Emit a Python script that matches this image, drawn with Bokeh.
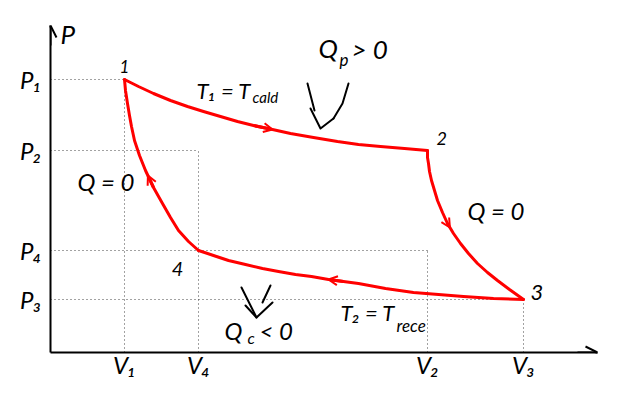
from bokeh.plotting import figure
from bokeh.models import Range1d, LinearAxis, FixedTicker, Label, Arrow, OpenHead
from bokeh.embed import file_html
from bokeh.resources import INLINE

# ---- data (arbitrary units) ----
V_names = ["V₁", "V₄", "V₂", "V₃"]
V_vals = [0.74, 1.48, 3.77, 4.73]
P_names = ["P₁", "P₂", "P₄", "P₃"]
P_vals = [2.73, 2.02, 1.02, 0.53]

# 1 -> 2 hot isotherm
iso_hot_V = [0.74, 0.88, 1.03, 1.20, 1.37, 1.53, 1.70, 1.87, 2.03, 2.22, 2.40, 2.63, 2.87, 3.08, 3.30, 3.54, 3.77]
iso_hot_P = [2.73, 2.66, 2.59, 2.52, 2.46, 2.41, 2.36, 2.31, 2.27, 2.23, 2.19, 2.15, 2.11, 2.08, 2.06, 2.04, 2.02]
# 2 -> 3 adiabatic expansion
adi_exp_V = [3.77, 3.77, 3.78, 3.79, 3.81, 3.84, 3.87, 3.92, 3.97, 4.03, 4.10, 4.18, 4.27, 4.37, 4.47, 4.59, 4.73]
adi_exp_P = [2.02, 1.95, 1.89, 1.81, 1.72, 1.62, 1.52, 1.40, 1.29, 1.19, 1.09, 0.99, 0.89, 0.80, 0.72, 0.63, 0.53]
# 3 -> 4 cold isotherm
iso_cold_V = [4.73, 4.43, 4.13, 3.88, 3.63, 3.35, 3.08, 2.93, 2.78, 2.61, 2.45, 2.28, 2.12, 1.95, 1.78, 1.63, 1.48]
iso_cold_P = [0.53, 0.54, 0.56, 0.58, 0.60, 0.64, 0.69, 0.71, 0.73, 0.76, 0.78, 0.81, 0.84, 0.88, 0.92, 0.97, 1.02]
# 4 -> 1 adiabatic compression
adi_comp_V = [1.48, 1.38, 1.28, 1.20, 1.12, 1.03, 0.95, 0.89, 0.84, 0.81, 0.79, 0.77, 0.75, 0.74]
adi_comp_P = [1.02, 1.11, 1.22, 1.35, 1.49, 1.65, 1.82, 1.97, 2.12, 2.26, 2.37, 2.49, 2.62, 2.73]

XMAX, YMAX = 5.47, 3.27
RED = "#ff0000"
FONT = "Lato"

p = figure(width=632, height=392, x_range=Range1d(0, XMAX), y_range=Range1d(0, YMAX),
           output_backend="svg", toolbar_location=None,
           x_axis_type=None, y_axis_type=None,
           min_border_left=50, min_border_right=35, min_border_top=25, min_border_bottom=40)
p.outline_line_color = None
p.background_fill_color = "white"

# axes
xa = LinearAxis(ticker=FixedTicker(ticks=V_vals),
                major_label_overrides={v: n for v, n in zip(V_vals, V_names)})
ya = LinearAxis(ticker=FixedTicker(ticks=P_vals),
                major_label_overrides={v: n for v, n in zip(P_vals, P_names)})
for ax in (xa, ya):
    ax.axis_line_width = 2
    ax.axis_line_color = "black"
    ax.major_tick_in = 0
    ax.major_tick_out = 0
    ax.minor_tick_in = 0
    ax.minor_tick_out = 0
    ax.major_label_text_font = FONT
    ax.major_label_text_font_style = "italic"
    ax.major_label_text_font_size = "24px"
    ax.major_label_text_color = "black"
xa.major_label_standoff = -3
ya.major_label_standoff = 9
ya.major_label_text_baseline = "top"
p.add_layout(xa, "below")
p.add_layout(ya, "left")

# axis arrowheads
p.add_layout(Arrow(end=OpenHead(size=12, line_width=2), x_start=XMAX - 0.2, y_start=0,
                   x_end=XMAX, y_end=0, line_width=2))
p.add_layout(Arrow(end=OpenHead(size=12, line_width=2), x_start=0, y_start=YMAX - 0.2,
                   x_end=0, y_end=YMAX, line_width=2))

# dotted guides
guide_x0 = [0, 0, 0, 0] + V_vals
guide_y0 = P_vals + [0, 0, 0, 0]
guide_x1 = V_vals + V_vals
guide_y1 = P_vals + P_vals
p.segment(x0=guide_x0, y0=guide_y0, x1=guide_x1, y1=guide_y1,
          line_color="#444444", line_width=1, line_dash="1 3")

# cycle
curves = [(iso_hot_V, iso_hot_P), (adi_exp_V, adi_exp_P),
          (iso_cold_V, iso_cold_P), (adi_comp_V, adi_comp_P)]
for xs, ys in curves:
    p.line(xs, ys, line_color=RED, line_width=3, line_join="round", line_cap="round")

# direction arrowheads along the curves (curve, segment index, fraction)
arrow_spots = [(0, 8, 1.0), (1, 8, 0.4), (2, 7, 1.0), (3, 5, 0.7)]
for ci, i, t in arrow_spots:
    xs, ys = curves[ci]
    xe = xs[i] + t * (xs[i + 1] - xs[i])
    ye = ys[i] + t * (ys[i + 1] - ys[i])
    p.add_layout(Arrow(end=OpenHead(size=9, line_width=2, line_color=RED),
                       x_start=xs[i], y_start=ys[i], x_end=xe, y_end=ye,
                       line_color=RED, line_width=3))

# heat arrows (hand-drawn style)
p.multi_line(xs=[[2.57, 2.64], [2.60, 2.70, 2.83], [2.98, 2.92, 2.83],
                 [1.91, 2.06], [1.95, 2.06, 2.22], [2.20, 2.12]],
             ys=[[2.69, 2.42], [2.44, 2.24, 2.34], [2.69, 2.49, 2.34],
                 [0.65, 0.35], [0.47, 0.35, 0.50], [0.67, 0.50]],
             line_color="black", line_width=2, line_join="round", line_cap="round")


def lab(x, y, text, size, align="left", baseline="middle"):
    p.add_layout(Label(x=x, y=y, text=text, text_font=FONT, text_font_style="italic",
                       text_font_size=size, text_align=align, text_baseline=baseline,
                       text_color="black"))


lab(0.10, 3.19, "P", "26px")
lab(5.43, -0.11, "V", "26px")
# vertices
lab(0.74, 2.86, "1", "17px", "center")
lab(3.86, 2.14, "2", "18px", "left")
lab(4.80, 0.60, "3", "22px", "left")
lab(1.27, 0.84, "4", "20px", "center")
# process labels
lab(1.46, 2.62, "T₁ = T", "22px")
lab(2.02, 2.56, "cald", "15px")
lab(2.68, 3.05, "Q", "26px")
lab(2.89, 2.93, "p", "17px")
lab(3.01, 3.04, "> 0", "26px")
lab(0.27, 1.71, "Q = 0", "24px")
lab(4.17, 1.42, "Q = 0", "24px")
lab(2.90, 0.40, "T₂ = T", "22px")
lab(3.46, 0.27, "rece", "17px")
lab(1.74, 0.22, "Q", "24px")
lab(1.97, 0.15, "c", "16px")
lab(2.09, 0.22, "< 0", "24px")

open("out.html", "w").write(file_html(p, INLINE))
